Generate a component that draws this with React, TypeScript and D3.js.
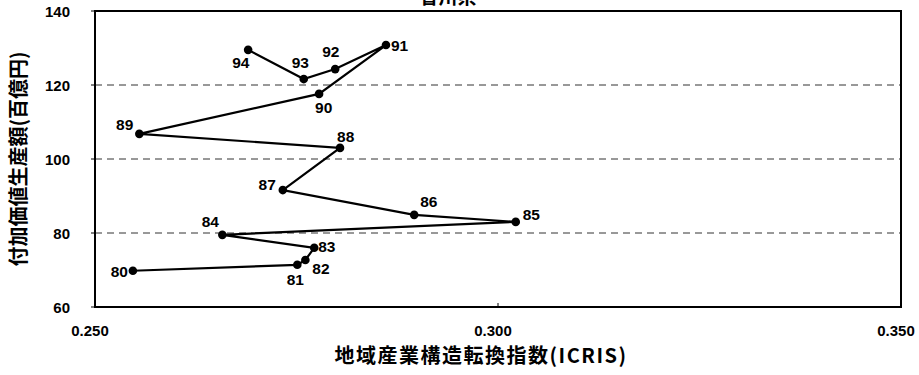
import React from "react";
import * as d3 from "d3";

const years = ["80","81","82","83","84","85","86","87","88","89","90","91","92","93","94"];
const icris = [0.2547,0.2751,0.2761,0.2772,0.2658,0.3022,0.2896,0.2733,0.2804,0.2555,0.2778,0.2861,0.2798,0.2759,0.2690];
const valueAdded = [69.8,71.4,72.7,76.0,79.5,83.0,84.9,91.6,103.0,106.8,117.6,130.8,124.3,121.6,129.5];
const xTicks = [0.25,0.3,0.35];
const yTicks = [60,80,100,120,140];
const title = "香川県";
const xTitle = "地域産業構造転換指数(ICRIS)";
const yTitle = "付加価値生産額(百億円)";

// label placement: [dx, dy, anchor]
const labelPos: [number, number, string][] = [
  [-5, 6, "end"], [-2, 20, "middle"], [7, 14, "start"], [4, 4, "start"],
  [-12, -8, "middle"], [7, -2, "start"], [6, -8, "start"], [-7, 0, "end"],
  [-3, -6, "start"], [-6, -4, "end"], [-4, 19, "start"], [5, 6, "start"],
  [-13, -12, "start"], [-12, -11, "start"], [-16, 18, "start"],
];

export default function App() {
  const W = 919, H = 375;
  const L = 95, R = 901, T = 11, B = 307;
  const x = d3.scaleLinear().domain([0.25, 0.35]).range([L, R]);
  const y = d3.scaleLinear().domain([60, 140]).range([B, T]);
  const line = d3.line<number>().x((_, i) => x(icris[i])).y((_, i) => y(valueAdded[i]));
  const font = "'Liberation Sans', Arial, sans-serif";
  const cjk = "'Noto Sans CJK JP', sans-serif";
  return (
    <svg width={W} height={H} style={{ position: "fixed", left: 0, top: 0, background: "#fff" }}>
      <rect x={0} y={0} width={W} height={H} fill="#fff" />
      <text x={448} y={4} textAnchor="middle" fontFamily={cjk} fontWeight="bold" fontSize={19}>{title}</text>
      {yTicks.filter(t => t > 60 && t < 140).map(t => (
        <line key={t} x1={L} x2={R} y1={y(t)} y2={y(t)} stroke="#333" strokeWidth={1} strokeDasharray="7,5" />
      ))}
      {yTicks.map(t => (
        <g key={"yt" + t}>
          <line x1={L - 4} x2={L} y1={y(t)} y2={y(t)} stroke="#000" strokeWidth={1} />
          <text x={70} y={y(t) + 5.5} textAnchor="end" fontFamily={font} fontWeight="bold" fontSize={15}>{t}</text>
        </g>
      ))}
      {xTicks.map(t => (
        <g key={"xt" + t}>
          <line x1={x(t)} x2={x(t)} y1={B} y2={B - 4} stroke="#000" strokeWidth={1} />
          <text x={x(t) - 5} y={336} textAnchor="middle" fontFamily={font} fontWeight="bold" fontSize={15}>{t.toFixed(3)}</text>
        </g>
      ))}
      <rect x={L} y={T} width={R - L} height={B - T} fill="none" stroke="#000" strokeWidth={2} />
      <path d={line(valueAdded) || ""} fill="none" stroke="#000" strokeWidth={2.2} />
      {years.map((yr, i) => {
        const px = x(icris[i]), py = y(valueAdded[i]);
        const [dx, dy, anc] = labelPos[i];
        return (
          <g key={yr}>
            <circle cx={px} cy={py} r={4.3} fill="#000" />
            <text x={px + dx} y={py + dy} textAnchor={anc as any} fontFamily={font} fontWeight="bold" fontSize={15.5}>{yr}</text>
          </g>
        );
      })}
      <text x={481} y={363} textAnchor="middle" fontFamily={cjk} fontWeight="bold" fontSize={20} letterSpacing={1.5}>{xTitle}</text>
      <text transform={`translate(26,${(T + B) / 2}) rotate(-90)`} textAnchor="middle" fontFamily={cjk} fontWeight="bold" fontSize={20}>{yTitle}</text>
    </svg>
  );
}
